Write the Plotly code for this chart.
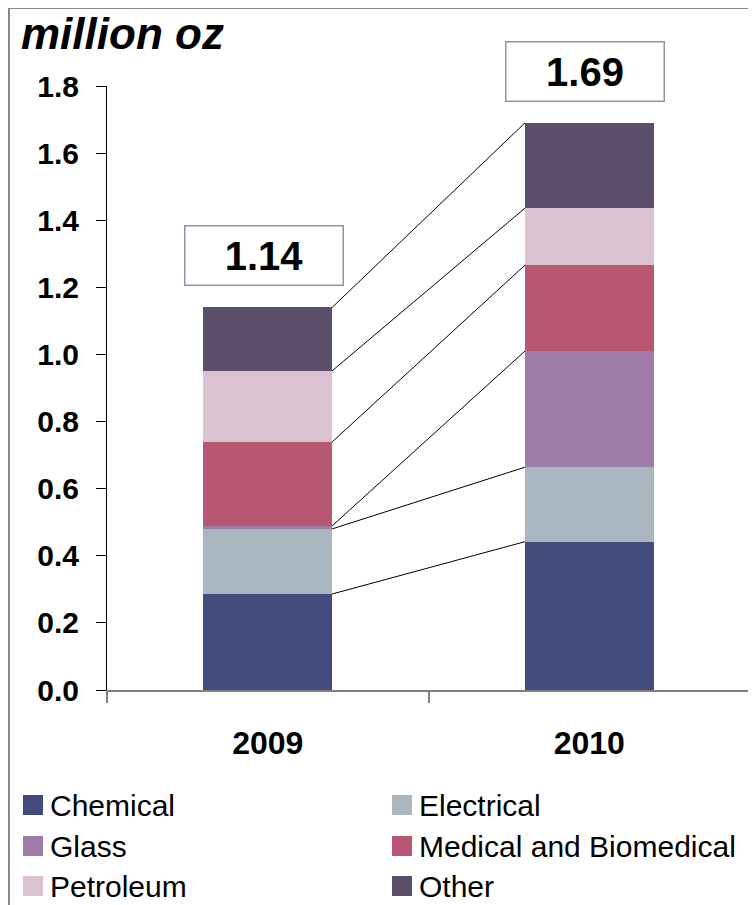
import plotly.graph_objects as go

years = ["2009", "2010"]
segments = ["Chemical", "Electrical", "Glass", "Medical and Biomedical", "Petroleum", "Other"]
values_2009 = [0.286, 0.194, 0.009, 0.250, 0.212, 0.189]
values_2010 = [0.442, 0.222, 0.346, 0.256, 0.170, 0.254]
totals = [1.14, 1.69]
total_labels = ["1.14", "1.69"]
colors = ["#434A7E", "#AAB7C0", "#A07CAB", "#B95772", "#DAC2D0", "#5C4D6A"]
y_ticks = [0.0, 0.2, 0.4, 0.6, 0.8, 1.0, 1.2, 1.4, 1.6, 1.8]

FONT = "Arial, 'Liberation Sans', sans-serif"
W, H = 756, 905
OFF = 8  # page body margin in the browser
ML, MT = 107 - OFF, 86 - OFF
MR = W - (750 - OFF)
MB = H - (690 - OFF)
PW, PH = W - ML - MR, H - MT - MB

def px_x(p):
    return (p - OFF - ML) / PW

def px_y(p):
    return (H - MB - (p - OFF)) / PH

fig = go.Figure()
for i, name in enumerate(segments):
    fig.add_trace(go.Bar(
        x=years, y=[values_2009[i], values_2010[i]], name=name,
        marker=dict(color=colors[i], line=dict(width=0)),
        width=0.4, showlegend=False,
    ))

# connector lines between stacked segment tops
bar_half = 0.2
cum09, cum10 = 0.0, 0.0
shapes = []
for i in range(len(segments)):
    cum09 += values_2009[i]
    cum10 += values_2010[i]
    shapes.append(dict(type="line", xref="x", yref="y",
                       x0=0 + bar_half, y0=cum09, x1=1 - bar_half, y1=cum10,
                       line=dict(color="black", width=1), layer="above"))

# outer frame
shapes.append(dict(type="rect", xref="paper", yref="paper",
                   x0=px_x(9), x1=px_x(780), y0=px_y(8), y1=px_y(930),
                   line=dict(color="#8E8498", width=2), layer="below"))

annotations = []
for j in range(len(years)):
    annotations.append(dict(
        x=j, y=totals[j], xref="x", yref="y", text="<b>%s</b>" % total_labels[j],
        showarrow=False, yanchor="bottom", yshift=21, xshift=-4,
        font=dict(family=FONT, size=40, color="black"),
        bordercolor="#9A8FA6", borderwidth=1.5, borderpad=0,
        width=157, height=58, bgcolor="white",
    ))

annotations.append(dict(
    x=px_x(19), y=px_y(33), xref="paper", yref="paper",
    text="<b><i>million oz</i></b>", showarrow=False,
    xanchor="left", yanchor="middle",
    font=dict(family=FONT, size=44, color="black"),
))

# legend (two columns, three rows)
col_x = [23, 392]
row_y = [805, 846, 886]
sq = 20
for i, name in enumerate(segments):
    cx = col_x[i % 2]
    cy = row_y[i // 2]
    shapes.append(dict(type="rect", xref="paper", yref="paper",
                       x0=px_x(cx), x1=px_x(cx + sq),
                       y0=px_y(cy - sq / 2), y1=px_y(cy + sq / 2),
                       fillcolor=colors[i], line=dict(width=0)))
    annotations.append(dict(
        x=px_x(cx + sq + 5), y=px_y(cy), xref="paper", yref="paper",
        text=name, showarrow=False, xanchor="left", yanchor="middle",
        font=dict(family=FONT, size=30, color="black"),
    ))

fig.update_layout(
    width=W, height=H,
    margin=dict(l=ML, r=MR, t=MT, b=MB),
    barmode="stack", bargap=0.6,
    plot_bgcolor="white", paper_bgcolor="white",
    shapes=shapes, annotations=annotations,
    font=dict(family=FONT, color="black"),
    showlegend=False,
    xaxis=dict(
        type="category", range=[-0.5, 1.5],
        showline=True, linecolor="#808080", linewidth=2,
        ticks="outside", ticklen=11, tickcolor="#808080", tickwidth=2,
        tickson="boundaries",
        tickfont=dict(family=FONT, size=32, color="black", weight="bold"),
        ticklabelstandoff=24,
        showgrid=False, zeroline=False, automargin=False,
    ),
    yaxis=dict(
        range=[0, 1.8], tickvals=y_ticks,
        ticktext=["%.1f" % v for v in y_ticks],
        showline=True, linecolor="black", linewidth=1,
        ticks="outside", ticklen=10, tickcolor="black", tickwidth=1,
        tickfont=dict(family=FONT, size=30, color="black", weight="bold"),
        ticklabelstandoff=11,
        showgrid=False, zeroline=False, automargin=False,
    ),
)

fig.write_html("out.html")
